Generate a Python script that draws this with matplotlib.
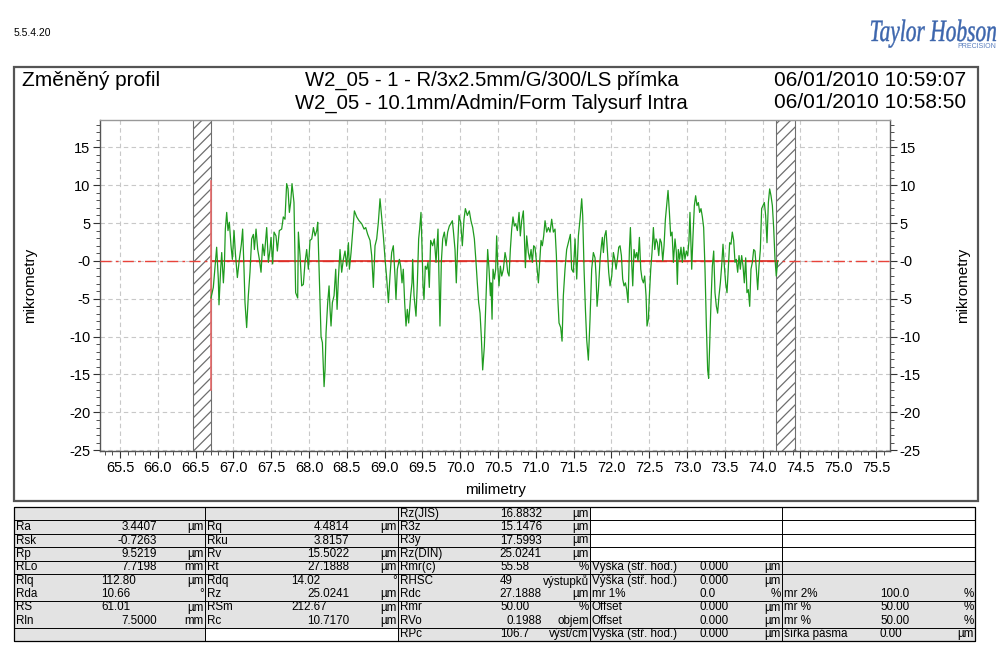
import numpy as np
import matplotlib
matplotlib.use("Agg")
import matplotlib.pyplot as plt
from matplotlib.ticker import MultipleLocator, FixedLocator, FixedFormatter
from matplotlib.patches import Rectangle, PathPatch
from matplotlib.textpath import TextPath
from matplotlib.font_manager import FontProperties
from matplotlib.transforms import Affine2D

plt.rcParams['font.family'] = ['Liberation Sans', 'DejaVu Sans']
plt.rcParams['hatch.linewidth'] = 0.9

# --- profil (poloha v mm, vyska v um) ---
profil_x = [
    66.703, 66.734, 66.770, 66.778, 66.800, 66.809, 66.831, 66.845, 66.867, 66.880,
    66.893, 66.911, 66.928, 66.946, 66.968, 66.986, 67.008, 67.025, 67.052, 67.078,
    67.105, 67.122, 67.140, 67.153, 67.175, 67.197, 67.219, 67.241, 67.264, 67.277,
    67.299, 67.321, 67.343, 67.365, 67.387, 67.409, 67.440, 67.462, 67.484, 67.497,
    67.519, 67.537, 67.563, 67.581, 67.607, 67.638, 67.660, 67.682, 67.704, 67.722,
    67.740, 67.757, 67.775, 67.801, 67.823, 67.850,
    67.859, 67.881, 67.903, 67.925, 67.947, 67.969, 67.991, 68.013, 68.036, 68.058,
    68.080, 68.102, 68.115, 68.133, 68.159, 68.177, 68.199, 68.212, 68.225, 68.247,
    68.265, 68.278, 68.291, 68.309, 68.331, 68.353, 68.371, 68.388, 68.410, 68.432,
    68.454, 68.476, 68.498, 68.521, 68.534, 68.556, 68.573, 68.600, 68.631, 68.662,
    68.697, 68.728, 68.750, 68.776, 68.807, 68.829, 68.851, 68.873, 68.895, 68.917,
    68.939, 68.961, 68.983, 69.006, 69.028, 69.050,
    69.071, 69.093, 69.115, 69.137, 69.150, 69.168, 69.195, 69.212, 69.230, 69.247,
    69.265, 69.283, 69.300, 69.318, 69.344, 69.362, 69.371, 69.389, 69.415, 69.433,
    69.450, 69.463, 69.481, 69.494, 69.508, 69.521, 69.538, 69.556, 69.574, 69.591,
    69.609, 69.635, 69.657, 69.680, 69.706, 69.724, 69.732, 69.750, 69.768, 69.790,
    69.812, 69.834, 69.856, 69.874, 69.896, 69.909, 69.931, 69.948, 69.966, 69.984,
    70.006, 70.028, 70.050, 70.068, 70.094, 70.120, 70.142, 70.165, 70.187, 70.209,
    70.226, 70.244, 70.262, 70.279, 70.297, 70.319,
    70.350, 70.363, 70.381, 70.399, 70.407, 70.421, 70.434, 70.452, 70.469, 70.482,
    70.496, 70.513, 70.531, 70.549, 70.571, 70.593, 70.610, 70.628, 70.646, 70.663,
    70.681, 70.698, 70.716, 70.734, 70.756, 70.778, 70.795, 70.813, 70.835, 70.848,
    70.862, 70.879, 70.901, 70.919, 70.937, 70.954, 70.972, 70.989, 71.011, 71.034,
    71.051, 71.069, 71.086, 71.104, 71.122, 71.144, 71.166, 71.188, 71.210, 71.232,
    71.254, 71.272, 71.289, 71.307, 71.329, 71.347, 71.364, 71.386, 71.408, 71.430,
    71.457, 71.474, 71.496, 71.519, 71.541, 71.563,
    71.585, 71.607, 71.620, 71.638, 71.656, 71.673, 71.695, 71.717, 71.739, 71.761,
    71.783, 71.797, 71.810, 71.828, 71.850, 71.867, 71.880, 71.894, 71.911, 71.929,
    71.947, 71.964, 71.982, 72.004, 72.026, 72.044, 72.061, 72.079, 72.097, 72.114,
    72.132, 72.149, 72.167, 72.185, 72.202, 72.220, 72.238, 72.251, 72.268, 72.282,
    72.299, 72.317, 72.335, 72.352, 72.370, 72.388, 72.405, 72.423, 72.440, 72.458,
    72.471, 72.489, 72.502, 72.520, 72.537, 72.555, 72.573, 72.590, 72.608, 72.626,
    72.643, 72.661, 72.679, 72.696, 72.714, 72.731, 72.749, 72.767, 72.784, 72.802,
    72.820,
    72.841, 72.859, 72.872, 72.885, 72.903, 72.920, 72.938, 72.956, 72.973, 72.991,
    73.009, 73.026, 73.039, 73.062, 73.079, 73.097, 73.114, 73.132, 73.150, 73.167,
    73.185, 73.203, 73.220, 73.238, 73.256, 73.273, 73.286, 73.300, 73.317, 73.335,
    73.353, 73.370, 73.388, 73.405, 73.423, 73.441, 73.458, 73.476, 73.494, 73.511,
    73.529, 73.547, 73.564, 73.582, 73.599, 73.617, 73.635, 73.652, 73.670, 73.688,
    73.705, 73.723, 73.741, 73.758, 73.776, 73.793, 73.811, 73.829, 73.846, 73.864,
    73.882, 73.899, 73.917, 73.935, 73.952, 73.970, 73.987, 74.005, 74.023, 74.040,
    74.058, 74.076, 74.093, 74.111, 74.129, 74.146, 74.164, 74.181, 74.199,
]
profil_z = [
    -4.9, -3.5, 0.7, 1.8, -2.4, -5.8, -1.1, 1.1, -2.9, -0.7,
    4.2, 6.4, 4.0, 5.1, 2.0, 0.2, 4.0, 1.1, -2.2, 0.2,
    2.2, 4.2, -1.1, -5.5, -8.8, -4.6, -1.5, 2.9, 3.5, 1.5,
    4.2, 1.5, 0.2, -1.5, 2.2, 0.7, 4.4, -0.2, 1.5, 3.1,
    -0.4, 3.8, 3.3, 1.3, 4.0, 4.2, 5.8, 5.5, 10.2, 9.5,
    6.4, 7.7, 10.2, 7.7, -4.2, -4.9,
    3.8, 0.7, -3.3, -3.1, -0.2, 1.5, -1.1, 2.7, 2.9, 4.4,
    3.3, 4.0, 5.1, -1.1, -10.0, -10.8, -16.6, -14.4, -9.5, -5.5,
    -3.3, -6.4, -8.6, -5.5, -4.6, -1.1, -6.4, -2.4, 1.5, -1.5,
    0.2, 1.3, -0.7, 2.4, -1.1, 1.1, 3.3, 6.6, 5.8, 5.3,
    4.9, 4.2, 4.4, 3.5, 2.7, 0.7, -3.5, 2.0, 2.9, 5.1,
    8.2, 5.8, 3.3, 0.2, -2.4, -5.5,
    -2.0, 1.1, 2.0, -2.0, -5.1, -1.1, 0.2, -0.7, -2.9, -1.1,
    -5.5, -8.6, -6.4, -8.2, -4.6, -2.9, 0.2, -4.6, -7.3, -2.9,
    2.9, 4.2, 6.4, 2.0, -3.3, -5.1, -0.7, -1.1, -0.2, -3.5,
    2.7, 2.0, 2.9, -0.2, 4.2, -4.6, -8.6, -0.2, 2.9, 3.8,
    2.0, 3.8, 4.6, 4.9, 5.3, 4.0, 1.5, -2.9, 2.0, 6.0,
    5.1, 2.0, 5.5, 6.9, 6.0, 6.6, 5.3, 4.4, 2.9, -0.2,
    -2.9, -5.5, -6.9, -10.0, -14.4, -11.3,
    -2.0, 1.5, -1.1, -4.6, -2.9, -7.7, -1.1, -2.4, -1.1, 3.3,
    -0.7, -3.3, -0.7, -2.0, -1.1, 1.1, 0.2, -1.5, -2.0, 1.5,
    4.2, 5.8, 4.6, 4.9, 4.0, 6.4, 3.3, 5.3, 6.6, 3.3,
    -0.9, 3.3, 1.1, 0.2, 1.5, -0.2, 2.0, 1.8, -0.4, -2.9,
    -0.2, 2.7, 2.0, 3.3, 5.3, 3.8, 4.4, 3.8, 5.5, 3.8,
    4.2, 0.7, -4.6, -8.2, -8.8, -10.6, -4.6, -1.1, 1.5, 2.4,
    3.5, -1.1, -1.5, 2.9, -2.4, 3.3,
    5.5, 8.2, 6.0, -1.1, -6.4, -10.4, -13.1, -7.7, -1.1, 1.1,
    0.4, -2.0, -6.0, -3.8, 0.2, 2.0, 3.1, 1.1, 3.3, 4.0,
    1.3, -1.5, -3.3, -2.0, 1.1, 0.2, -1.1, 0.2, 1.8, 2.0,
    0.7, -2.4, -3.3, -2.9, -3.8, -5.5, 1.5, 4.4, -0.2, -3.3,
    1.5, 0.4, 1.1, 0.0, 3.1, -1.1, -2.4, -2.9, -2.0, -4.6,
    -8.6, -7.7, -4.6, -1.1, 1.1, 4.4, 1.5, 2.9, 2.4, 0.7,
    2.9, 2.4, 0.0, 2.0, 5.5, 7.3, 9.3, 6.4, 3.3, 3.8,
    -0.2,
    2.9, 1.1, -3.1, 1.5, 0.2, 1.8, -0.2, 1.8, 0.2, 1.3,
    0.7, 2.7, 6.4, -1.1, 3.3, 7.3, 8.6, 7.3, 7.7, 6.4,
    6.9, 5.8, 4.4, -1.1, -8.6, -14.4, -15.5, -10.8, -5.5, -0.7,
    1.3, -4.2, -6.0, -6.9, -4.6, -2.9, -0.7, 2.2, -0.7, -2.9,
    -4.2, -0.7, 2.4, 2.2, 3.8, 2.7, -0.2, 0.2, -1.5, 0.7,
    -1.1, 0.7, -0.7, -2.9, 0.4, -4.2, -3.8, -6.0, -1.1, -0.2,
    1.5, 1.3, -1.1, -3.8, -0.7, 1.5, 6.9, 7.3, 7.7, 6.0,
    2.4, 7.7, 9.5, 8.6, 7.3, 4.4, 0.2, -2.0, 0.0,
]

# vyloucene zony (srafovane) a referencni usecka
zona_vlevo = (66.466, 66.704)
zona_vpravo = (74.180, 74.430)
ref_zacatek, ref_konec = 66.704, 74.200
svisla_mez = (-17.0, 10.5)

y_ticks = [-25, -20, -15, -10, -5, 0, 5, 10, 15]
y_labels = ['-25', '-20', '-15', '-10', '-5', '-0', '5', '10', '15']
x_ticks = np.arange(65.5, 75.51, 0.5)

# --- tabulka parametru ---
col_a_lab = ['', 'Ra', 'Rsk', 'Rp', 'RLo', 'Rlq', 'Rda', 'RS', 'Rln', '']
col_a_val = ['', '3.4407', '-0.7263', '9.5219', '7.7198', '112.80', '10.66', '61.01', '7.5000', '']
col_a_unit = ['', 'µm', '', 'µm', 'mm', 'µm', '°', 'µm', 'mm', '']
col_b_lab = ['', 'Rq', 'Rku', 'Rv', 'Rt', 'Rdq', 'Rz', 'RSm', 'Rc', '']
col_b_val = ['', '4.4814', '3.8157', '15.5022', '27.1888', '14.02', '25.0241', '212.67', '10.7170', '']
col_b_unit = ['', 'µm', '', 'µm', 'µm', '°', 'µm', 'µm', 'µm', '']
col_c_lab = ['Rz(JIS)', 'R3z', 'R3y', 'Rz(DIN)', 'Rmr(c)', 'RHSC', 'Rdc', 'Rmr', 'RVo', 'RPc']
col_c_val = ['16.8832', '15.1476', '17.5993', '25.0241', '55.58', '49', '27.1888', '50.00', '0.1988', '106.7']
col_c_unit = ['µm', 'µm', 'µm', 'µm', '%', 'výstupků', 'µm', '%', 'objem', 'výst/cm']
col_d_lab = ['', '', '', '', 'Výška (stř. hod.)', 'Výška (stř. hod.)', 'mr 1%', 'Offset', 'Offset', 'Výška (stř. hod.)']
col_d_val = ['', '', '', '', '0.000', '0.000', '0.0', '0.000', '0.000', '0.000']
col_d_unit = ['', '', '', '', 'µm', 'µm', '%', 'µm', 'µm', 'µm']
col_e_lab = ['', '', '', '', '', '', 'mr 2%', 'mr %', 'mr %', 'šířka pásma']
col_e_val = ['', '', '', '', '', '', '100.0', '50.00', '50.00', '0.00']
col_e_unit = ['', '', '', '', '', '', '%', '%', '%', 'µm']

W, H = 1000, 654
fig = plt.figure(figsize=(W / 100, H / 100), dpi=100)
fig.patch.set_facecolor('white')

# pomocna osa pres celou stranku (souradnice v pixelech)
ov = fig.add_axes([0, 0, 1, 1], zorder=0)
ov.set_xlim(0, W)
ov.set_ylim(H, 0)
ov.axis('off')

ov.text(14, 33, '5.5.4.20', fontsize=7.5, va='center', ha='left')

# logo
fp = FontProperties(family=['Liberation Serif', 'DejaVu Serif'], style='italic')
tp = TextPath((0, 0), 'Taylor Hobson', size=1, prop=fp)
ext = tp.get_extents()
sx = 125 / ext.width
tr = Affine2D().translate(-ext.x0, 0).scale(sx, -31).translate(871, 41) + ov.transData
ov.add_patch(PathPatch(tp, transform=tr, facecolor='#3d66ad', edgecolor='#3d66ad', lw=0.3))
ov.text(996, 46, 'PRECISION', fontsize=5, color='#5a7fbf', ha='right', va='center')

# ramecek grafu
ov.add_patch(Rectangle((14, 67), 964, 434, fill=False, edgecolor='#555555', lw=1.6))
ov.text(22, 80, 'Změněný profil', fontsize=15, ha='left', va='center')
ov.text(492, 80, 'W2_05 - 1 - R/3x2.5mm/G/300/LS přímka', fontsize=14.6, ha='center', va='center')
ov.text(491, 103, 'W2_05 - 10.1mm/Admin/Form Talysurf Intra', fontsize=14.6, ha='center', va='center')
ov.text(966, 80, '06/01/2010 10:59:07', fontsize=15, ha='right', va='center')
ov.text(966, 103, '06/01/2010 10:58:50', fontsize=15, ha='right', va='center')
ov.text(30, 285, 'mikrometry', fontsize=11, rotation=90, ha='center', va='center')
ov.text(963, 285, 'mikrometry', fontsize=11, rotation=90, ha='center', va='center')
ov.text(495, 490, 'milimetry', fontsize=11, ha='center', va='center')

# --- hlavni graf ---
ax = fig.add_axes([100 / W, 1 - 451 / H, 790 / W, 331 / H], zorder=1)
ax.set_xlim(65.235, 75.685)
ax.set_ylim(-25.1, 18.6)

for z0, z1 in (zona_vlevo, zona_vpravo):
    ax.axvspan(z0, z1, facecolor='white', edgecolor='#6e6e6e', hatch='///', lw=0.8, zorder=2)

ax.axhline(0, color='#e8433a', lw=1.0, ls=(0, (8, 3, 2, 3)), zorder=3)
ax.plot([ref_zacatek, ref_konec], [0, 0], color='#dd2a22', lw=1.2, zorder=3)
ax.plot([ref_zacatek, ref_zacatek], svisla_mez, color='#e86a6a', lw=1.2, zorder=3)
ax.plot(profil_x, profil_z, color='#1f9b1f', lw=0.9, zorder=4)

ax.xaxis.set_major_locator(FixedLocator(x_ticks))
ax.xaxis.set_major_formatter(FixedFormatter(['%.1f' % v for v in x_ticks]))
ax.xaxis.set_minor_locator(MultipleLocator(0.1))
ax.yaxis.set_major_locator(FixedLocator(y_ticks))
ax.yaxis.set_major_formatter(FixedFormatter(y_labels))
ax.yaxis.set_minor_locator(MultipleLocator(1))
ax.tick_params(axis='both', which='major', direction='out', length=5, width=0.8,
               labelsize=10.5, color='#333333', pad=2)
ax.tick_params(axis='both', which='minor', direction='out', length=3, width=0.6, color='#333333')
ax.tick_params(axis='y', which='both', left=True, right=True, labelleft=True, labelright=True)
ax.grid(True, which='major', color='#c8c8c8', ls=(0, (4, 3)), lw=0.8)
for s in ax.spines.values():
    s.set_color('#555555')
    s.set_linewidth(1.0)
ax.spines['top'].set_color('#999999')

# --- tabulka ---
col_edges = [14, 205, 398, 590, 782, 975]
row_top, row_h = 507, 13.4
nrows = 10
white = {(3, 0), (3, 1), (3, 2), (3, 3), (4, 0), (4, 1), (4, 2), (4, 3), (1, 9)}
for c in range(5):
    for r in range(nrows):
        fc = 'white' if (c, r) in white else '#e3e3e3'
        ov.add_patch(Rectangle((col_edges[c], row_top + r * row_h), col_edges[c + 1] - col_edges[c],
                               row_h, facecolor=fc, edgecolor='none'))
for r in (0, 1, 2, 3, 4, 6, 8):
    y = row_top + (r + 1) * row_h
    ov.plot([col_edges[0], col_edges[-1]], [y, y], color='black', lw=0.7)
for x in col_edges:
    ov.plot([x, x], [row_top, row_top + nrows * row_h], color='black', lw=0.7)
ov.add_patch(Rectangle((col_edges[0], row_top), col_edges[-1] - col_edges[0], nrows * row_h,
                       fill=False, edgecolor='black', lw=0.9))

columns = [
    (col_a_lab, col_a_val, col_a_unit, 157, 101),
    (col_b_lab, col_b_val, col_b_unit, 349, 291),
    (col_c_lab, col_c_val, col_c_unit, 542, 500),
    (col_d_lab, col_d_val, col_d_unit, None, 699),
    (col_e_lab, col_e_val, col_e_unit, None, 880),
]
fs = 8.4
for c, (labs, vals, units, xr, xl) in enumerate(columns):
    x0, x1 = col_edges[c], col_edges[c + 1]
    for r in range(nrows):
        yc = row_top + (r + 0.5) * row_h
        if labs[r]:
            ov.text(x0 + 2, yc, labs[r], fontsize=fs, ha='left', va='center')
        v = vals[r]
        if v:
            if xr is not None and '.' in v and len(v.split('.')[1]) == 4:
                ov.text(xr, yc, v, fontsize=fs, ha='right', va='center')
            else:
                ov.text(xl, yc, v, fontsize=fs, ha='left', va='center')
        if units[r]:
            ov.text(x1 - 1, yc, units[r], fontsize=fs, ha='right', va='center')

fig.savefig('out.png', dpi=100)
